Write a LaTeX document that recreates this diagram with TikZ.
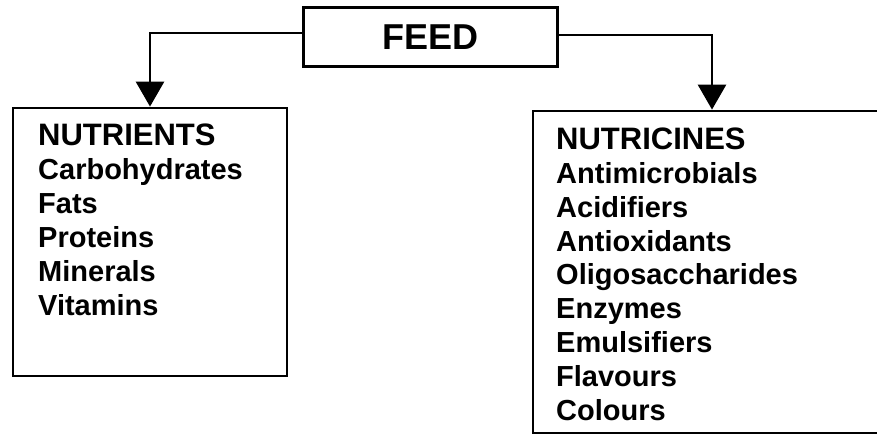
\documentclass[tikz,border=0pt]{standalone}
\usepackage{fontspec}
\setmainfont{Liberation Sans}
\usetikzlibrary{arrows.meta}
\tikzset{
  boxstyle/.style={draw, line width=2.8pt, inner sep=0pt},
  conn/.style={line width=2.8pt, -{Triangle[width=28pt,length=25pt]}},
  hdr/.style={inner sep=0pt, anchor=base west, font=\fontsize{31}{34}\selectfont\bfseries},
  itm/.style={inner sep=0pt, anchor=base west, font=\fontsize{29}{34}\selectfont\bfseries}
}
\begin{document}
\begin{tikzpicture}[x=1pt,y=-1pt]
\useasboundingbox (0,0) rectangle (877,435);
\clip (0,0) rectangle (877,435);
\fill[white] (0,0) rectangle (877,435);
% boxes
\node[boxstyle, minimum width=254pt, minimum height=59pt,
      font=\fontsize{36}{40}\selectfont\bfseries] (feed) at (430.5,37) {\raisebox{-5.5pt}{FEED}};
\node[boxstyle, minimum width=274pt, minimum height=268pt] (nutr) at (150,242) {};
\node[boxstyle, minimum width=358pt, minimum height=322pt] (nutc) at (712,272) {};
% connectors
\draw[conn] ([yshift=4pt]feed.west) -| (nutr.north);
\draw[conn] ([yshift=2pt]feed.east) -| (nutc.north);
% left list
\node[hdr] (lh) at (38,146) {NUTRIENTS};
\foreach \t [count=\i] in {Carbohydrates,Fats,Proteins,Minerals,Vitamins}
  \node[itm] (l\i) at (38,{146+34*\i}) {\t};
% right list
\node[hdr] (rh) at (556,150) {NUTRICINES};
\foreach \t [count=\i] in {Antimicrobials,Acidifiers,Antioxidants,Oligosaccharides,Enzymes,Emulsifiers,Flavours,Colours}
  \node[itm] (r\i) at (556,{150+33.75*\i}) {\t};
\end{tikzpicture}
\end{document}
